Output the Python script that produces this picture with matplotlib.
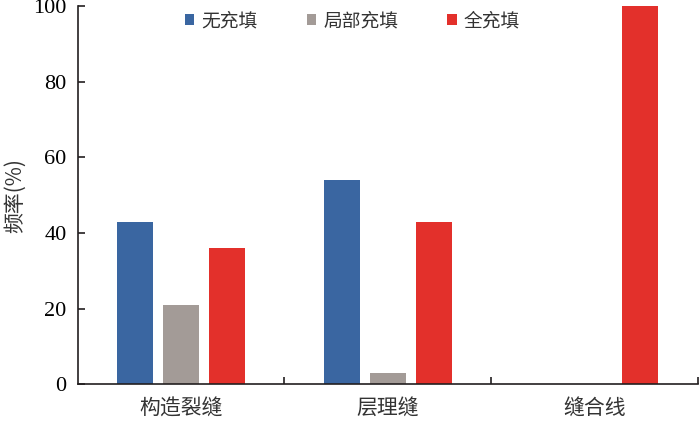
import matplotlib
matplotlib.use("Agg")
import matplotlib.pyplot as plt
import numpy as np

plt.rcParams['font.family'] = ['Noto Sans CJK SC', 'DejaVu Sans']

# data
categories = ['构造裂缝', '层理缝', '缝合线']
series_names = ['无充填', '局部充填', '全充填']
no_fill = [43, 54, 0]
part_fill = [21, 3, 0]
full_fill = [36, 43, 100]
colors = ['#3a66a1', '#a39b97', '#e3302b']
yticks = [0, 20, 40, 60, 80, 100]

fig = plt.figure(figsize=(7, 4.23), dpi=100)
ax = fig.add_axes([0.111, 0.092, 0.886, 0.893])

x = np.arange(len(categories))
w = 0.174
step = 0.222
for i, (vals, name, c) in enumerate(zip([no_fill, part_fill, full_fill], series_names, colors)):
    ax.bar(x + (i - 1) * step, vals, width=w, color=c, label=name, zorder=2)

ax.set_xlim(-0.5, 2.5)
ax.set_ylim(0, 100)
ax.set_yticks(yticks)
ax.set_yticklabels([str(v) for v in yticks], family='Liberation Serif', fontsize=16)
ax.set_xticks([0.5, 1.5, 2.5])
ax.set_xticklabels([])
ax.set_xticks(x, minor=True)
ax.set_xticklabels(categories, minor=True, fontsize=15, color='#333333')
ax.tick_params(axis='x', which='minor', length=0, pad=10)
ax.tick_params(axis='x', which='major', direction='in', length=5, color='#231f20', width=1.2)
ax.tick_params(axis='y', direction='in', length=5, color='#231f20', width=1.2, pad=8)

for s in ['top', 'right']:
    ax.spines[s].set_visible(False)
for s in ['left', 'bottom']:
    ax.spines[s].set_color('#231f20')
    ax.spines[s].set_linewidth(1.2)

ax.set_ylabel('频率(%)', fontsize=15, color='#333333', labelpad=5)

leg = ax.legend(loc='upper center', bbox_to_anchor=(0.443, 1.035), ncol=3, frameon=False,
                handlelength=0.5, handleheight=0.5, handletextpad=0.4, columnspacing=2.6,
                fontsize=13.5)
for t in leg.get_texts():
    t.set_color('#333333')

fig.savefig('out.png', dpi=100)
